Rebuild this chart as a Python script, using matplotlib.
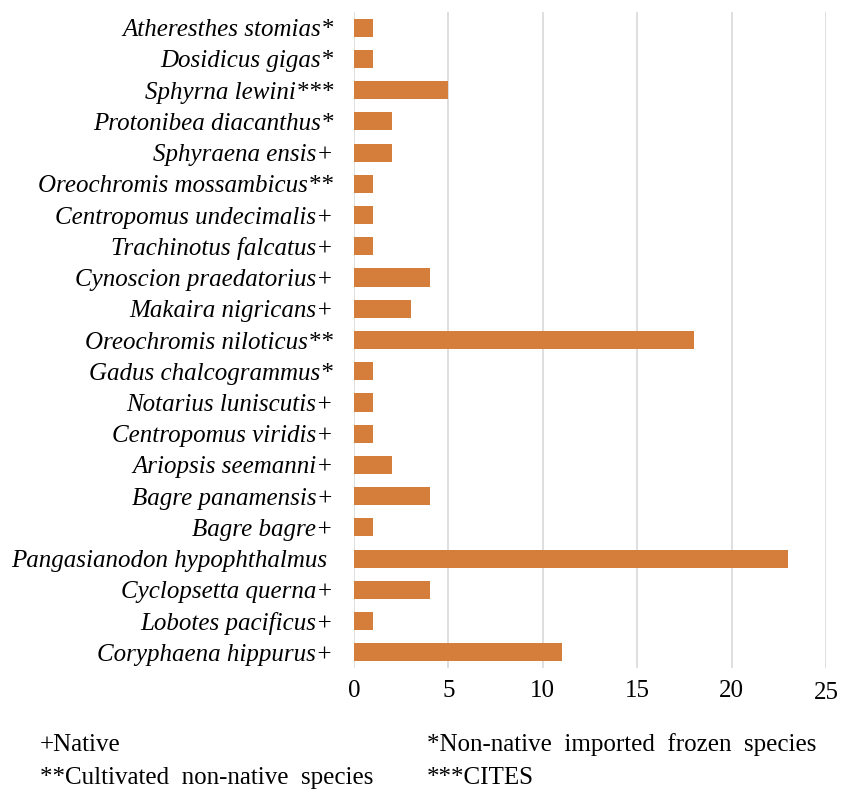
import matplotlib
matplotlib.use("Agg")
import matplotlib.pyplot as plt
import matplotlib.transforms as mtransforms

species = [
    "Atheresthes stomias*",
    "Dosidicus gigas*",
    "Sphyrna lewini***",
    "Protonibea diacanthus*",
    "Sphyraena ensis+",
    "Oreochromis mossambicus**",
    "Centropomus undecimalis+",
    "Trachinotus falcatus+",
    "Cynoscion praedatorius+",
    "Makaira nigricans+",
    "Oreochromis niloticus**",
    "Gadus chalcogrammus*",
    "Notarius luniscutis+",
    "Centropomus viridis+",
    "Ariopsis seemanni+",
    "Bagre panamensis+",
    "Bagre bagre+",
    "Pangasianodon hypophthalmus ",
    "Cyclopsetta querna+",
    "Lobotes pacificus+",
    "Coryphaena hippurus+",
]
counts = [1, 1, 5, 2, 2, 1, 1, 1, 4, 3, 18, 1, 1, 1, 2, 4, 1, 23, 4, 1, 11]
xticks = [0, 5, 10, 15, 20, 25]

plt.rcParams['font.family'] = ['Liberation Serif', 'DejaVu Serif']

fig = plt.figure(figsize=(8.42, 7.91), dpi=100)
ax = fig.add_axes([354/842, 1-668/791, 472/842, (668-12)/791])

n = len(species)
ypos = list(range(n))[::-1]
ax.barh(ypos, counts, height=0.58, color='#D57D3A', zorder=3)
ax.set_ylim(-0.5, n-0.5)
ax.set_xlim(0, 25)
ax.set_xticks(xticks)
ax.set_xticklabels([str(t) for t in xticks], fontsize=18)
ax.set_yticks(ypos)
ax.set_yticklabels(species, fontsize=18, style='italic')
ax.tick_params(axis='x', length=0, pad=8.5)
ax.tick_params(axis='y', length=0, pad=15)
ax.grid(axis='x', color='#D9D9D9', linewidth=1.2, zorder=0)
for s in ax.spines.values():
    s.set_visible(False)

# last tick label sits slightly lower in the reference
lbl = ax.get_xticklabels()[-1]
lbl.set_transform(lbl.get_transform() + mtransforms.ScaledTranslation(0, -2/100, fig.dpi_scale_trans))

fig.text(40/842, 1-745/791, "+Native", fontsize=18, va='center', ha='left')
fig.text(427/842, 1-745/791, "*Non-native  imported  frozen  species", fontsize=18, va='center', ha='left')
fig.text(40/842, 1-778/791, "**Cultivated  non-native  species", fontsize=18, va='center', ha='left')
fig.text(427/842, 1-778/791, "***CITES", fontsize=18, va='center', ha='left')

fig.savefig("out.png", dpi=100)
